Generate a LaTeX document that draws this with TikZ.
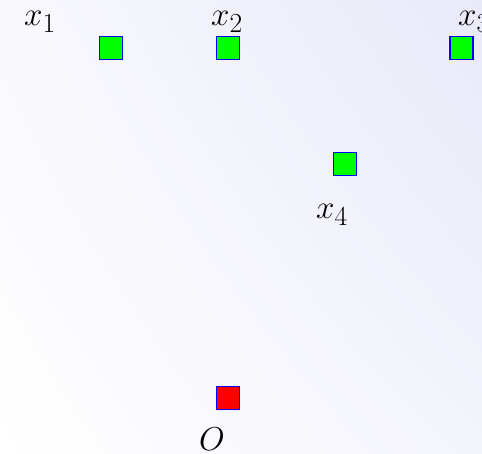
\documentclass[tikz,border=0pt]{standalone}
\usepackage{graphicx}
\usepackage{tikz}
\usetikzlibrary{shadings}
\definecolor{bgtop}{RGB}{233,233,249}
\definecolor{sqgreen}{RGB}{0,255,0}
\definecolor{sqred}{RGB}{255,0,0}
\newcommand{\biglab}[1]{\scalebox{1.33}{\Huge$#1$}}
\tikzset{
  pt/.style={draw=blue, line width=1.2pt, minimum size=23pt, inner sep=0pt, outer sep=0pt},
  ptg/.style={pt, fill=sqgreen},
  ptr/.style={pt, fill=sqred},
  lab/.style={inner sep=0pt}
}
\begin{document}
\begin{tikzpicture}[x=1pt,y=1pt]
\useasboundingbox (0,0) rectangle (482,453);
\shade[lower left=white, upper left=white!70!bgtop, upper right=bgtop, lower right=white!50!bgtop] (0,0) rectangle (482,453);
\node[ptg] (p1) at (111,405) {};
\node[ptg] (p2) at (228,405) {};
\node[ptg] (p3) at (461.5,405) {};
\node[ptg] (p4) at (345,289) {};
\node[ptr] (o) at (228,55) {};
\node[lab] (l1) at (40,431) {\biglab{x_1}};
\node[lab] (l2) at (227,431) {\biglab{x_2}};
\node[lab] (l3) at (474,431) {\biglab{x_3}};
\node[lab] (l4) at (332,238) {\biglab{x_4}};
\node[lab] (lo) at (212,14) {\biglab{O}};
\end{tikzpicture}
\end{document}
